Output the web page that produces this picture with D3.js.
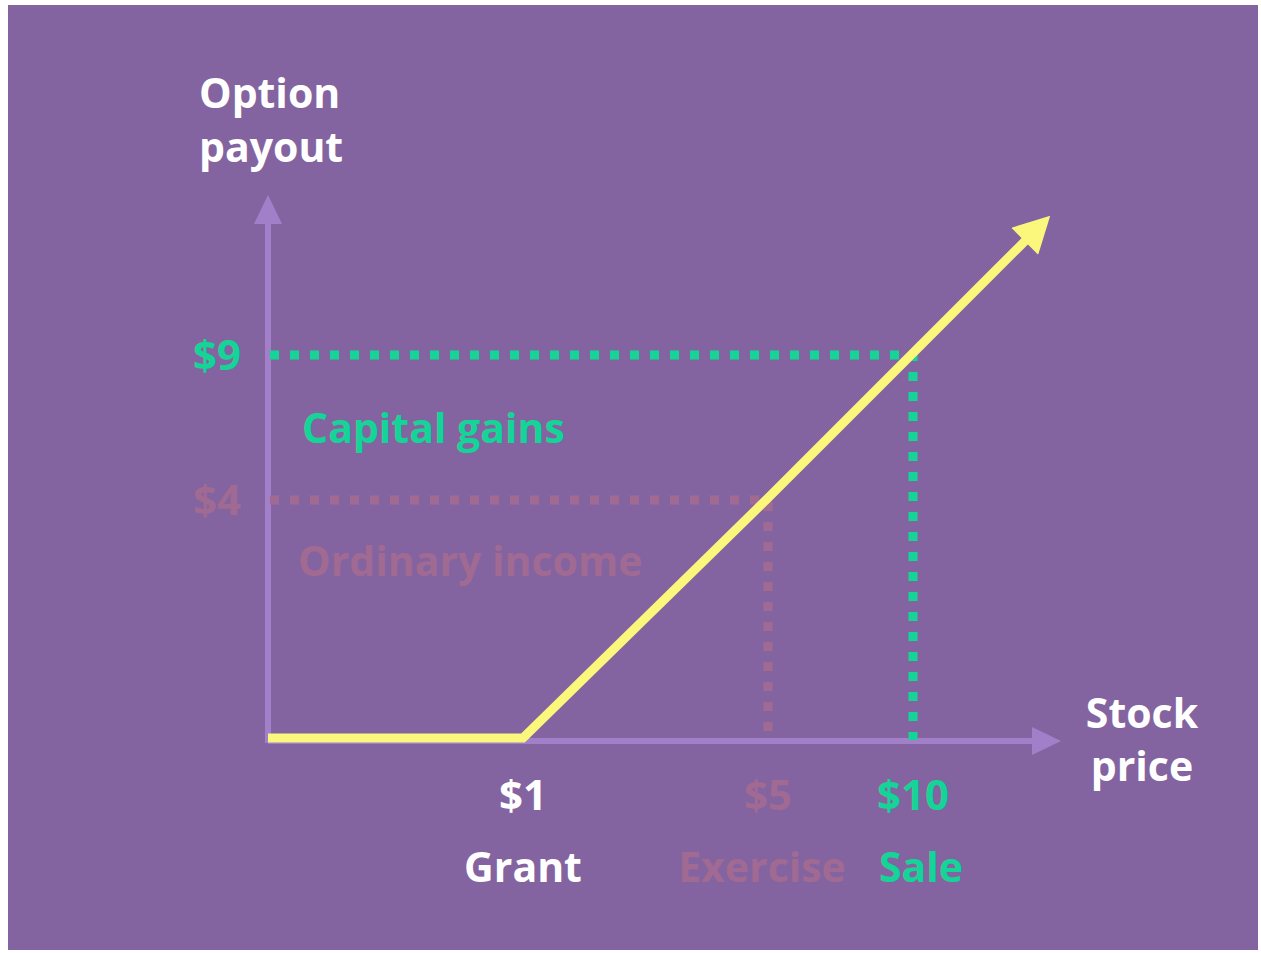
<!DOCTYPE html>
<meta charset="utf-8">
<style>
  body { margin: 0; background: #fff; }
  text { font-family: "Open Sans", "Noto Sans", sans-serif; font-weight: 700; }
</style>
<script src="https://d3js.org/d3.v7.min.js"></script>
<div id="chart"></div>
<script>
// data
var priceKnots = [0, 1, 5, 10];          // stock price knots on the schematic x axis
var payoutKnots = [0, 4, 9];             // payout knots on the schematic y axis
var payoffPrice = [0, 1, 5, 10, 14];     // yellow payoff curve
var payoffValue = [0, 0, 4, 9, 13];
var xTicks = [1, 5, 10];
var xTickLabels = ["$1", "$5", "$10"];
var xEvents = ["Grant", "Exercise", "Sale"];
var yTicks = [4, 9];
var yTickLabels = ["$4", "$9"];
var zoneLabels = ["Ordinary income", "Capital gains"];

var W = 1261, H = 953;
var bg = "#8464a0", axisCol = "#a27fc9", yellow = "#fbf67c",
    green = "#14d597", pink = "#a06a92", white = "#ffffff";
var roleColor = [white, pink, green];   // per x tick
var yColor = [pink, green];

var svg = d3.select("#chart").append("svg")
    .attr("width", W).attr("height", H);

svg.append("rect")
    .attr("x", 8).attr("y", 5)
    .attr("width", 1250).attr("height", 945)
    .attr("fill", bg);

// schematic (piecewise) scales
var x = d3.scaleLinear().domain(priceKnots).range([268, 523, 768, 913]);
var y = d3.scaleLinear().domain(payoutKnots).range([740, 500, 355]);

var defs = svg.append("defs");
function marker(id, col, len, half, ref) {
  defs.append("marker")
      .attr("id", id)
      .attr("markerUnits", "userSpaceOnUse")
      .attr("viewBox", (-len) + " " + (-half) + " " + (len * 2) + " " + (half * 2))
      .attr("markerWidth", len * 2).attr("markerHeight", half * 2)
      .attr("refX", ref).attr("refY", 0)
      .attr("orient", "auto")
    .append("path")
      .attr("d", "M0," + (-half) + "L" + len + ",0L0," + half + "Z")
      .attr("fill", col);
}
marker("axisHead", axisCol, 29, 14, 1);
marker("yellowHead", yellow, 36, 19, 6);

// axes
svg.append("line")
    .attr("x1", x(0)).attr("x2", x(0))
    .attr("y1", y(0) + 3).attr("y2", 223)
    .attr("stroke", axisCol).attr("stroke-width", 6)
    .attr("marker-end", "url(#axisHead)");
svg.append("line")
    .attr("x1", x(0)).attr("x2", 1033)
    .attr("y1", y(0) + 1).attr("y2", y(0) + 1)
    .attr("stroke", axisCol).attr("stroke-width", 6)
    .attr("marker-end", "url(#axisHead)");

// dotted guides
var guides = svg.append("g");
yTicks.forEach(function (v, i) {
  var px = payoffPrice[payoffValue.indexOf(v)];
  guides.append("path")
      .attr("d", "M" + (x(0) + 2) + "," + y(v) + "H" + x(px) + "V" + y(0))
      .attr("fill", "none")
      .attr("stroke", yColor[i])
      .attr("stroke-width", 9)
      .attr("stroke-dasharray", "9,11");
});

// payoff line
var line = d3.line()
    .x(function (d) { return x(d[0]); })
    .y(function (d) { return y(d[1]) - 2; });
svg.append("path")
    .datum(d3.zip(payoffPrice, payoffValue))
    .attr("d", line)
    .attr("fill", "none")
    .attr("stroke", yellow)
    .attr("stroke-width", 9)
    .attr("stroke-linejoin", "miter")
    .attr("marker-end", "url(#yellowHead)");

// text
var fs = 41;
svg.append("text").attr("x", 199).attr("y", 108).attr("font-size", fs)
    .attr("fill", white).text("Option");
svg.append("text").attr("x", 199).attr("y", 162).attr("font-size", fs)
    .attr("fill", white).text("payout");
svg.append("text").attr("x", 1142).attr("y", 728).attr("font-size", fs)
    .attr("text-anchor", "middle").attr("fill", white).text("Stock");
svg.append("text").attr("x", 1142).attr("y", 781).attr("font-size", fs)
    .attr("text-anchor", "middle").attr("fill", white).text("price");

svg.selectAll("text.ytick").data(yTicks).enter().append("text")
    .attr("class", "ytick")
    .attr("x", 241).attr("y", function (d) { return y(d) + 15; })
    .attr("text-anchor", "end").attr("font-size", fs + 1)
    .attr("fill", function (d, i) { return yColor[i]; })
    .text(function (d, i) { return yTickLabels[i]; });

svg.selectAll("text.zone").data(zoneLabels).enter().append("text")
    .attr("class", "zone")
    .attr("x", function (d, i) { return i ? 302 : 298; })
    .attr("y", function (d, i) { return i ? 443 : 576; })
    .attr("font-size", fs)
    .attr("fill", function (d, i) { return yColor[i]; })
    .text(function (d) { return d; });

var evDx = [0, -6, 8];
svg.selectAll("text.xtick").data(xTicks).enter().append("text")
    .attr("class", "xtick")
    .attr("x", function (d) { return x(d); }).attr("y", 810)
    .attr("text-anchor", "middle").attr("font-size", fs + 1)
    .attr("fill", function (d, i) { return roleColor[i]; })
    .text(function (d, i) { return xTickLabels[i]; });
svg.selectAll("text.xevent").data(xTicks).enter().append("text")
    .attr("class", "xevent")
    .attr("x", function (d, i) { return x(d) + evDx[i]; }).attr("y", 882)
    .attr("text-anchor", "middle").attr("font-size", fs)
    .attr("fill", function (d, i) { return roleColor[i]; })
    .text(function (d, i) { return xEvents[i]; });
</script>
